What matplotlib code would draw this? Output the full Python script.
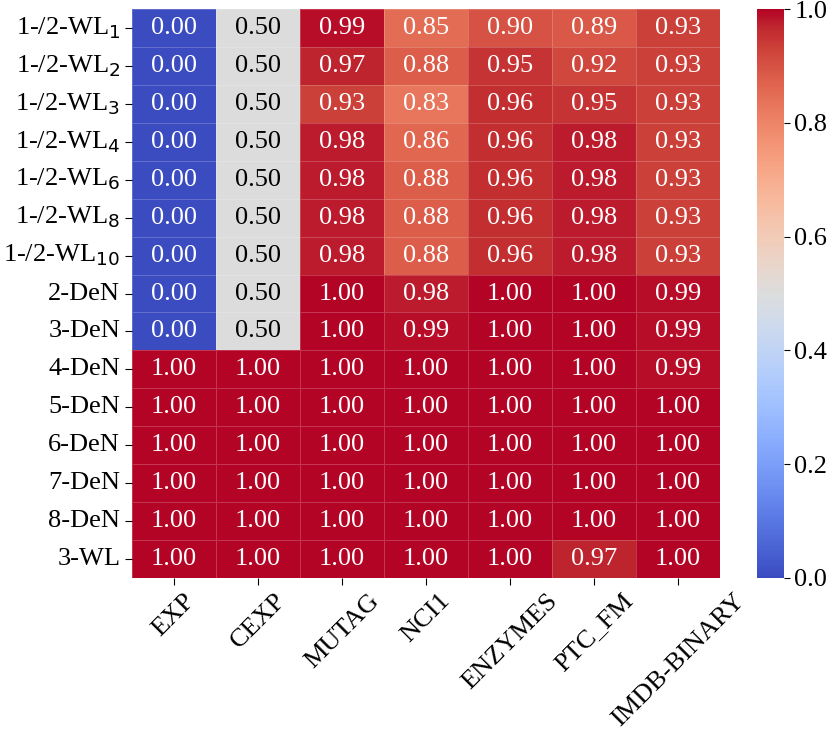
import numpy as np
import matplotlib
matplotlib.use("Agg")
import matplotlib.pyplot as plt
import seaborn as sns

# data
rows = [r"1-/2-WL$_1$", r"1-/2-WL$_2$", r"1-/2-WL$_3$", r"1-/2-WL$_4$",
        r"1-/2-WL$_6$", r"1-/2-WL$_8$", r"1-/2-WL$_{10}$",
        "2-DeN", "3-DeN", "4-DeN", "5-DeN", "6-DeN", "7-DeN", "8-DeN", "3-WL"]
cols = ["EXP", "CEXP", "MUTAG", "NCI1", "ENZYMES", "PTC_FM", "IMDB-BINARY"]

vals = np.array([
    [0.00, 0.50, 0.99, 0.85, 0.90, 0.89, 0.93],
    [0.00, 0.50, 0.97, 0.88, 0.95, 0.92, 0.93],
    [0.00, 0.50, 0.93, 0.83, 0.96, 0.95, 0.93],
    [0.00, 0.50, 0.98, 0.86, 0.96, 0.98, 0.93],
    [0.00, 0.50, 0.98, 0.88, 0.96, 0.98, 0.93],
    [0.00, 0.50, 0.98, 0.88, 0.96, 0.98, 0.93],
    [0.00, 0.50, 0.98, 0.88, 0.96, 0.98, 0.93],
    [0.00, 0.50, 1.00, 0.98, 1.00, 1.00, 0.99],
    [0.00, 0.50, 1.00, 0.99, 1.00, 1.00, 0.99],
    [1.00, 1.00, 1.00, 1.00, 1.00, 1.00, 0.99],
    [1.00, 1.00, 1.00, 1.00, 1.00, 1.00, 1.00],
    [1.00, 1.00, 1.00, 1.00, 1.00, 1.00, 1.00],
    [1.00, 1.00, 1.00, 1.00, 1.00, 1.00, 1.00],
    [1.00, 1.00, 1.00, 1.00, 1.00, 1.00, 1.00],
    [1.00, 1.00, 1.00, 1.00, 1.00, 0.97, 1.00],
])

plt.rcParams['font.family'] = ['Liberation Serif', 'DejaVu Serif']
plt.rcParams['mathtext.fontset'] = 'dejavusans'
fs = 19

W, H = 831, 731
fig = plt.figure(figsize=(W / 100, H / 100), dpi=100)
ax = fig.add_axes([132 / W, (H - 578) / H, (720 - 132) / W, (578 - 9) / H])
cax = fig.add_axes([757 / W, (H - 578) / H, 27 / W, (578 - 9) / H])

sns.heatmap(vals, ax=ax, cbar_ax=cax, cmap="coolwarm", vmin=0, vmax=1,
            annot=True, fmt=".2f", annot_kws={"fontsize": fs},
            linewidths=0.4, linecolor=(1, 1, 1, 0.2),
            xticklabels=cols, yticklabels=rows)

# text colour: black on the grey cells, white elsewhere
for t in ax.texts:
    t.set_color("black" if t.get_text() == "0.50" else "white")

ax.tick_params(axis='both', labelsize=fs, length=5)
ax.set_yticklabels(rows, rotation=0)
ax.set_xticklabels(cols, rotation=45)

cax.tick_params(labelsize=fs, length=4)
cax.set_yticks([0.0, 0.2, 0.4, 0.6, 0.8, 1.0])
cax.set_yticklabels(["0.0", "0.2", "0.4", "0.6", "0.8", "1.0"])

fig.savefig("out.png", dpi=100)
